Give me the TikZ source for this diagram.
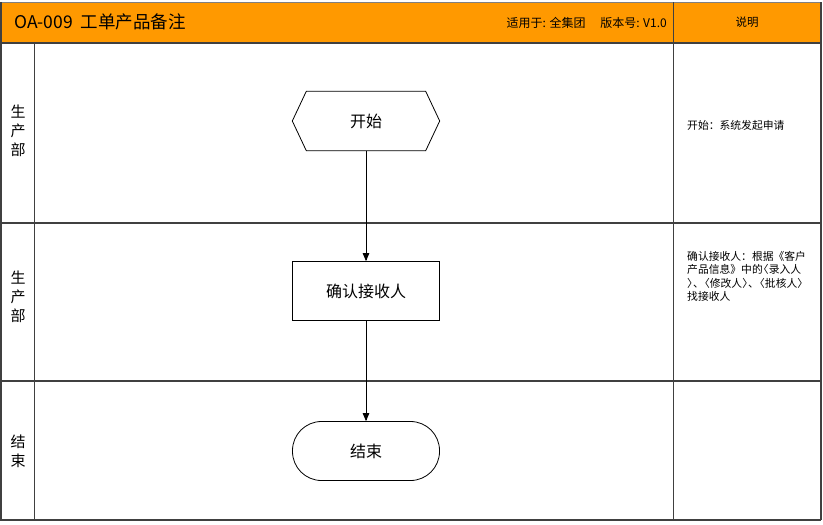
\documentclass[tikz,border=0pt]{standalone}
\usepackage{fontspec}
\setmainfont{Noto Sans CJK SC}
\usepackage{tikz}
\usetikzlibrary{arrows,positioning}
\definecolor{headorange}{HTML}{FF9900}
\definecolor{framegray}{HTML}{404040}
\newcommand{\lbrk}{\makebox[0.55em][r]{〈}}
\newcommand{\rbrk}{\makebox[0.55em][l]{〉}}

\begin{document}
\begin{tikzpicture}[x=1pt,y=-1pt]
			\tikzstyle{Frame}	= [framegray, line width=1.6pt]
			\tikzstyle{Thin}	= [framegray, line width=1pt]
			\tikzstyle{Step}	= [draw, solid, fill=white, minimum width=147pt, minimum height=59pt, inner sep=0pt, font=\fontsize{16}{18}\selectfont]
			\tikzstyle{Plain}	= [inner sep=0pt, font=\fontsize{16}{18}\selectfont]
			\tikzstyle{Lane}	= [align=center, inner sep=0pt, font=\fontsize{15}{19}\selectfont]
			\tikzstyle{Note}	= [inner sep=0pt, align=left, font=\fontsize{10.8}{13.5}\selectfont]
			\tikzstyle{Flow}	= [black, line width=0.8pt]

			\useasboundingbox (0,0) rectangle (823,525);

			% header bar
			\fill [headorange] (0,2) rectangle (821,43);
			\draw [Thin, gray] (0,2) -- (821,2);

			% swimlane frame
			\draw [Frame] (0,43) -- (821,43);
			\draw [Frame] (0,223) -- (821,223);
			\draw [Frame] (0,381) -- (821,381);
			\draw [Frame] (0,520) -- (821,520);
			\draw [Frame] (1,2) -- (1,520);
			\draw [Thin] (34,43) -- (34,520);
			\draw [Thin] (673,2) -- (673,520);
			\draw [Frame] (821,2) -- (821,520);

			% header texts
			\node (title) at (14,22) [anchor=west, inner sep=0pt, font=\fontsize{17.5}{20}\selectfont] {OA-009\ \ 工单产品备注};
			\node (scope) at (667,23) [anchor=east, inner sep=0pt, font=\fontsize{12}{14}\selectfont] {适用于: 全集团\quad\ 版本号: V1.0};
			\node (remark) at (747,22) [inner sep=0pt, font=\fontsize{11.5}{13}\selectfont] {说明};

			% lane labels
			\node (lane1) at (18,131) [Lane] {生\\产\\部};
			\node (lane2) at (18,297) [Lane] {生\\产\\部};
			\node (lane3) at (18,451) [Lane] {结\\束};

			% flow steps
			\node (start) at (366,121) [Plain, minimum width=147pt, minimum height=59pt] {开始};
			\draw [black, line width=0.8pt] (start.west) -- ([xshift=14pt]start.north west) -- ([xshift=-14pt]start.north east)
				-- (start.east) -- ([xshift=-14pt]start.south east) -- ([xshift=14pt]start.south west) -- cycle;
			\node (confirm) at (366,291) [Step, line width=0.8pt] {确认接收人};
			\node (finish) at (366,451) [Step, line width=0.8pt, rounded corners=29pt] {结束};

			\draw [-triangle 45] (start) to (confirm) [Flow];
			\draw [-triangle 45] (confirm) to (finish) [Flow];

			% notes
			\node (note1) at (687,125) [Note, anchor=west] {开始：系统发起申请};
			\node (note2) at (687,251) [Note, anchor=north west] {确认接收人：根据《客户\\产品信息》中的\lbrk 录入人\\\rbrk 、\lbrk 修改人\rbrk 、\lbrk 批核人\rbrk\\找接收人};
		\end{tikzpicture}
\end{document}
